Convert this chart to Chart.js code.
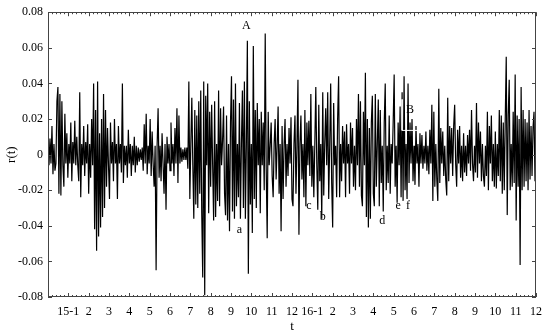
<!DOCTYPE html>
<html>
<head>
<meta charset="utf-8">
<script src="https://cdn.jsdelivr.net/npm/chart.js@4.4.1/dist/chart.umd.min.js"></script>
<style>
  html, body { margin: 0; padding: 0; background: #fff; }
  #wrap { width: 550px; height: 334px; }
</style>
</head>
<body>
<div id="wrap"><canvas id="retChart" width="550" height="334"></canvas></div>
<script>
// daily returns r(t) (one value per trading day)
const ret2015 = [
  .004,-.006,.009,-.005,.016,-.011,.006,-.009,-.005,.030,
  .038,-.022,.034,-.023,.030,-.006,-.018,.023,-.005,.012,
  -.013,.006,-.005,.018,-.015,.007,-.005,.019,-.006,.010,
  -.006,-.015,.035,-.024,.006,-.006,.016,-.012,.007,-.005,
  .017,-.022,.006,-.013,.020,-.006,.040,-.042,.025,-.054,
  .041,-.046,.012,-.041,.020,-.035,.034,-.030,.025,-.018,
  .015,-.006,-.025,.018,-.005,.007,-.015,.020,-.005,.006,
  -.025,.016,-.005,.006,-.010,.040,-.016,.005,-.006,.005,
  -.013,.014,-.005,.006,-.012,.005,-.006,.010,-.010,.005,
  -.006,.004,-.004,.003,-.003,.004,-.009,.017,-.005,.023,
  -.011,.005,-.005,.020,-.012,.013,-.005,-.018,.005,-.065,
  .005,.026,-.013,.005,-.015,.012,-.005,-.022,.006,-.031,
  .010,-.005,.006,-.009,.018,-.005,.006,-.012,.015,-.005,
  .026,-.016,.022,-.005,.004,-.004,.003,-.003,.004,-.003,
  .004,-.008,.041,-.025,.006,.032,-.006,-.036,.025,-.028,
  .022,-.030,.030,-.022,.036,-.033,-.069,.041,-.079,.033,
  -.006,.040,-.033,.024,-.018,.028,-.006,-.037,.030,-.035,
  .006,-.026,.036,-.029,.026,-.006,.008,.027,-.022,-.034,
  .022,-.037,.006,-.043,.018,.044,-.032,.031,-.036,.040,
  -.029,.006,-.024,.029,-.036,.006,.036,-.030,.041,-.036,
  .006,.064,-.067,.030,-.028,.006,-.044,.061,-.025,.025,
  -.030,.029,-.006,.020,-.033,.024,-.006,.018,-.020,.068,
  -.008,-.047,.024,-.006,.005,.018,-.012,-.024,.006,.020,
  -.014,.005,.027,-.022,.006,-.043,.016,-.025,.005,.020,
  -.018,.006,-.012,.015,-.005,.021,-.025,-.029,.006,.022
];
const ret2016 = [
  -.022,.005,.042,-.045,.006,.022,-.014,.006,-.024,.025,
  -.029,.018,-.006,.019,-.012,.034,-.018,.005,-.024,.006,
  .038,-.006,-.031,.028,-.015,.006,-.036,.035,-.023,.006,
  .026,-.006,.035,-.025,.005,.040,-.016,-.041,.029,-.006,
  .005,-.024,.020,.044,-.024,.006,-.015,.016,-.005,.013,
  -.024,.017,-.005,.006,-.022,.018,-.005,.015,-.018,.005,
  -.020,.020,-.006,.034,-.018,.030,-.023,-.029,.024,-.006,
  .046,-.035,.020,-.041,.015,-.036,.018,.033,-.022,-.029,
  .034,-.018,.006,.031,-.029,.025,-.016,.005,-.032,.018,
  .040,-.020,.005,-.016,.022,-.022,.006,-.005,.018,.045,
  -.018,.005,-.027,.018,-.006,.027,-.024,.035,-.026,.044,
  -.020,.006,-.025,.040,-.016,.018,-.005,.020,-.015,.005,
  -.017,.016,-.005,.006,-.018,.012,-.005,.011,-.008,.005,
  -.005,.013,-.009,.005,-.011,.014,-.005,.028,-.026,.024,
  -.018,.006,-.014,-.026,.037,-.016,.015,-.005,.013,-.012,
  .005,-.014,-.023,.032,-.015,.016,-.005,.015,-.012,.016,
  .028,-.005,-.018,.014,-.005,.016,-.013,.005,-.015,.012,
  -.010,.005,-.012,.011,-.005,.014,-.009,.025,-.005,-.015,
  .005,-.010,.029,-.013,.018,-.005,.013,-.015,.006,-.012,
  -.018,.005,-.012,.024,-.020,.016,-.005,.022,-.015,.006,
  -.018,.013,-.019,.006,-.012,.025,-.015,.022,-.022,.018,
  -.020,.020,.055,-.034,.022,.042,-.020,.006,-.018,.024,
  -.016,.045,-.037,.022,-.018,.020,-.062,.038,-.020,.025,
  -.018,.020,-.015,.018,-.020,.025,-.014,.016,-.012,.015,
  .024,-.015,.012
];
const monthLabels = ['15-1','2','3','4','5','6','7','8','9','10','11','12',
                     '16-1','2','3','4','5','6','7','8','9','10','11','12'];
const yTicks = [-0.08, -0.06, -0.04, -0.02, 0, 0.02, 0.04, 0.06, 0.08];
// text marks on the plot: day index and r value
const notes = [
  { text: 'A', x: 200, y: 0.0725 },
  { text: 'a', x: 193, y: -0.042 },
  { text: 'c', x: 263, y: -0.029 },
  { text: 'b', x: 277, y: -0.035 },
  { text: 'd', x: 337, y: -0.037 },
  { text: 'e', x: 353, y: -0.029 },
  { text: 'f', x: 363, y: -0.029 },
  { text: 'B', x: 365, y: 0.025 }
];
const markB = [ { x: 357, y: 0.031 }, { x: 357, y: 0.0136 }, { x: 379, y: 0.0136 } ];

const returns = ret2015.concat(ret2016);
const lastDay = returns.length - 1;
const dayPerMonth = lastDay / 24;
const serif = '"Liberation Serif", "Times New Roman", serif';

const frameTicks = {
  id: 'frameTicks',
  afterDatasetsDraw(chart) {
    const { ctx, chartArea: a, scales: { x, y } } = chart;
    ctx.save();
    ctx.strokeStyle = '#444';
    ctx.lineWidth = 1;
    ctx.beginPath();
    for (let k = 0; k <= 24 * 5; k++) {
      const px = Math.round(x.getPixelForValue(k / 5 * dayPerMonth)) + 0.5;
      const len = k % 5 === 0 ? 4 : 2;
      ctx.moveTo(px, a.bottom); ctx.lineTo(px, a.bottom - len);
      ctx.moveTo(px, a.top); ctx.lineTo(px, a.top + len);
    }
    yTicks.forEach(v => {
      const py = Math.round(y.getPixelForValue(v)) + 0.5;
      ctx.moveTo(a.left, py); ctx.lineTo(a.left + 4, py);
      ctx.moveTo(a.right, py); ctx.lineTo(a.right - 4, py);
    });
    ctx.stroke();
    ctx.strokeRect(Math.round(a.left) + 0.5, Math.round(a.top) + 0.5, Math.round(a.width) - 1, Math.round(a.height) - 1);

    ctx.fillStyle = '#000';
    ctx.font = '12px ' + serif;
    ctx.textAlign = 'center';
    ctx.textBaseline = 'middle';
    notes.forEach(n => ctx.fillText(n.text, x.getPixelForValue(n.x), y.getPixelForValue(n.y)));
    ctx.restore();
  }
};

new Chart(document.getElementById('retChart'), {
  type: 'line',
  data: {
    datasets: [{
      data: markB,
      borderColor: '#fff',
      borderWidth: 1,
      pointRadius: 0,
      order: 0
    }, {
      data: returns.map((v, i) => ({ x: i, y: v })),
      borderColor: '#000',
      borderWidth: 1.2,
      pointRadius: 0,
      tension: 0,
      order: 1
    }]
  },
  options: {
    responsive: false,
    animation: false,
    devicePixelRatio: 1,
    layout: { padding: { top: 8, right: 9, left: 0, bottom: 0 } },
    plugins: { legend: { display: false }, tooltip: { enabled: false } },
    scales: {
      x: {
        type: 'linear',
        min: 0,
        max: lastDay,
        grid: { display: false, drawTicks: false },
        border: { display: false },
        afterBuildTicks: s => { s.ticks = monthLabels.map((_, k) => ({ value: (k + 1) * dayPerMonth })); },
        afterFit: s => { s.height = 37; },
        ticks: {
          autoSkip: false,
          maxRotation: 0,
          padding: 8,
          color: '#000',
          font: { family: serif, size: 12 },
          callback: (v, i) => monthLabels[i]
        },
        title: { display: true, text: 't', color: '#000', font: { family: serif, size: 13 }, padding: { top: 0, bottom: 0 } }
      },
      y: {
        min: -0.08,
        max: 0.08,
        grid: { display: false, drawTicks: false },
        border: { display: false },
        afterBuildTicks: s => { s.ticks = yTicks.map(v => ({ value: v })); },
        afterFit: s => { s.width = 48; },
        ticks: {
          padding: 5,
          color: '#000',
          font: { family: serif, size: 12 },
          callback: v => Math.abs(v) < 1e-9 ? '0' : v.toFixed(2)
        },
        title: { display: true, text: 'r(t)', color: '#000', font: { family: serif, size: 13 }, padding: { top: 4, bottom: 0 } }
      }
    }
  },
  plugins: [frameTicks]
});
</script>
</body>
</html>
